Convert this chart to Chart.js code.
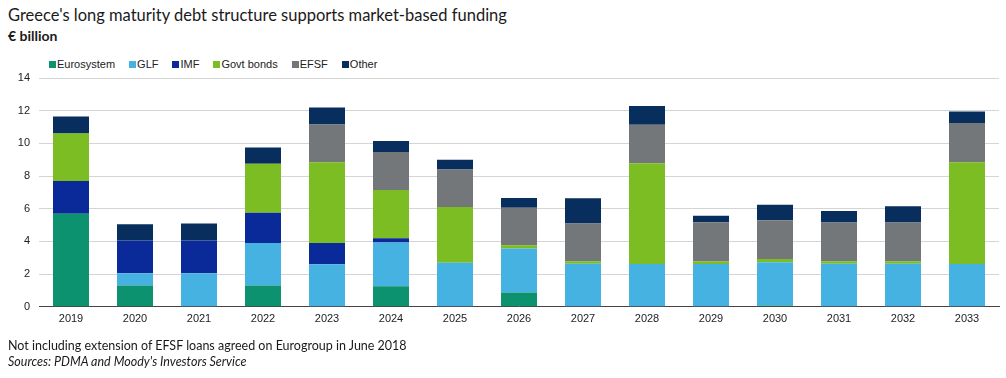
<!DOCTYPE html>
<html>
<head>
<meta charset="utf-8">
<script src="https://cdn.jsdelivr.net/npm/chart.js@4.4.1/dist/chart.umd.min.js"></script>
<style>
  body { margin: 0; background: #fff; }
  #wrap { position: relative; width: 1006px; height: 378px; overflow: hidden; }
  #chart { position: absolute; left: 0; top: 0; }
  .title { position: absolute; left: 8px; top: 5px; font: 16.5px Lato, sans-serif; color: #1a1a1a; white-space: nowrap; }
  .unit { position: absolute; left: 8px; top: 27px; font: bold 14px Lato, sans-serif; color: #1a1a1a; }
  .note { position: absolute; left: 8px; font: 12.5px Lato, sans-serif; color: #1a1a1a; white-space: nowrap; }
  #legend { position: absolute; left: 49px; top: 58px; font: 11px "Liberation Sans", Arial, sans-serif; color: #222; display: flex; }
  #legend span.item { display: flex; align-items: center; margin-right: 14px; }
  #legend i { display: inline-block; width: 7px; height: 7px; margin-right: 1px; }
</style>
</head>
<body>
<div id="wrap">
  <div class="title">Greece's long maturity debt structure supports market-based funding</div>
  <div class="unit">€ billion</div>
  <div id="legend"></div>
  <canvas id="chart" width="1006" height="378"></canvas>
  <div class="note" style="top:338px">Not including extension of EFSF loans agreed on Eurogroup in June 2018</div>
  <div class="note" style="top:354px;font-style:italic">Sources: PDMA and Moody's Investors Service</div>
</div>
<script>
const years = ['2019','2020','2021','2022','2023','2024','2025','2026','2027','2028','2029','2030','2031','2032','2033'];

const eurosystem = [5.7, 1.3, 0, 1.3, 0, 1.25, 0, 0.88, 0, 0, 0, 0.08, 0, 0, 0];
const glf        = [0, 0.75, 2.05, 2.6, 2.6, 2.68, 2.7, 2.68, 2.64, 2.62, 2.62, 2.65, 2.64, 2.64, 2.62];
const imf        = [2.0, 2.0, 2.0, 1.85, 1.3, 0.27, 0, 0, 0, 0, 0, 0, 0, 0, 0];
const govtBonds  = [2.9, 0, 0, 3.0, 4.95, 2.95, 3.4, 0.2, 0.15, 6.17, 0.15, 0.2, 0.15, 0.15, 6.23];
const efsf       = [0, 0, 0, 0, 2.3, 2.32, 2.3, 2.3, 2.3, 2.35, 2.4, 2.37, 2.37, 2.37, 2.4];
const other      = [1.05, 1.0, 1.05, 1.0, 1.05, 0.67, 0.6, 0.6, 1.55, 1.15, 0.4, 0.95, 0.7, 0.99, 0.7];

const yTicks = [0, 2, 4, 6, 8, 10, 12, 14];

const series = [
  { label: 'Eurosystem', data: eurosystem, color: '#0d9270' },
  { label: 'GLF',        data: glf,        color: '#45b2e2' },
  { label: 'IMF',        data: imf,        color: '#0a2a9a' },
  { label: 'Govt bonds', data: govtBonds,  color: '#7bbd23' },
  { label: 'EFSF',       data: efsf,       color: '#74777a' },
  { label: 'Other',      data: other,      color: '#072e5c' }
];

// legend in html so the little squares sit tight against the text
const legend = document.getElementById('legend');
series.forEach(s => {
  const el = document.createElement('span');
  el.className = 'item';
  el.innerHTML = `<i style="background:${s.color}"></i>${s.label}`;
  legend.appendChild(el);
});

new Chart(document.getElementById('chart'), {
  type: 'bar',
  data: {
    labels: years,
    datasets: series.map(s => ({
      label: s.label,
      data: s.data,
      backgroundColor: s.color,
      borderWidth: 0,
      categoryPercentage: 1,
      barPercentage: 0.5625
    }))
  },
  options: {
    responsive: false,
    animation: false,
    layout: { padding: { top: 78, bottom: 46, left: 0, right: 7 } },
    plugins: { legend: { display: false }, tooltip: { enabled: false } },
    scales: {
      x: {
        stacked: true,
        grid: { display: false, drawTicks: false },
        border: { display: true, color: '#444', width: 1 },
        ticks: { color: '#222', font: { family: 'Liberation Sans', size: 11 }, padding: 6, maxRotation: 0 }
      },
      y: {
        stacked: true,
        min: 0,
        max: 14,
        afterBuildTicks: axis => { axis.ticks = yTicks.map(v => ({ value: v })); },
        afterFit: axis => { axis.width = 39; },
        grid: { color: '#d4d4d4', lineWidth: 1, drawTicks: false },
        border: { display: false },
        ticks: { color: '#222', font: { family: 'Liberation Sans', size: 11 }, padding: 9 }
      }
    }
  }
});
</script>
</body>
</html>
